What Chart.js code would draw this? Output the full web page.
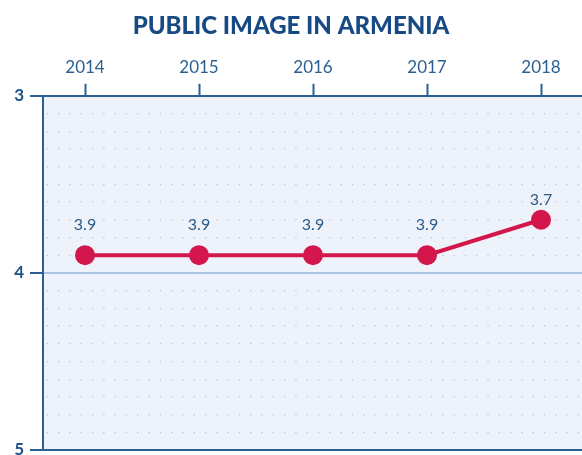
<!DOCTYPE html>
<html>
<head>
<meta charset="utf-8">
<script src="https://cdn.jsdelivr.net/npm/chart.js@4.4.0/dist/chart.umd.min.js"></script>
<style>
  html, body { margin: 0; padding: 0; background: #fff; }
  #wrap { width: 582px; height: 455px; }
</style>
</head>
<body>
<div id="wrap"><canvas id="armChart"></canvas></div>
<script>
// values
const years = [2014, 2015, 2016, 2017, 2018];
const ranks = [3.9, 3.9, 3.9, 3.9, 3.7];
const yLabels = [3, 4, 5];

const dark = '#1f5288';
const tickBlue = '#2b5f92';

// light blue plot background
const plotBg = {
    id: 'plotBg',
    beforeDraw(chart) {
        const {ctx, chartArea: a} = chart;
        ctx.save();
        ctx.fillStyle = '#eef3fb';
        ctx.fillRect(a.left, a.top, a.right - a.left, a.bottom - a.top);
        ctx.restore();
    }
};

// numbers above the points
const valueLabels = {
    id: 'valueLabels',
    afterDatasetsDraw(chart) {
        const ctx = chart.ctx;
        const meta = chart.getDatasetMeta(0);
        ctx.save();
        ctx.font = '16px Lato';
        ctx.fillStyle = '#2d5b88';
        ctx.textAlign = 'center';
        ctx.textBaseline = 'middle';
        meta.data.forEach((pt, i) => {
            let off = i === meta.data.length - 1 ? 20 : 30;
            ctx.fillText(ranks[i].toFixed(1), pt.x, pt.y - off);
        });
        ctx.restore();
    }
};

function isLabel(v) {
    return yLabels.some(l => Math.abs(l - v) < 1e-6);
}

let chart = new Chart(document.getElementById('armChart').getContext('2d'), {
    type: 'line',
    data: {
        datasets: [{
            data: years.map((y, i) => ({x: y, y: ranks[i]})),
            borderColor: '#d3164b',
            backgroundColor: '#d3164b',
            borderWidth: 4,
            pointRadius: 8,
            pointHoverRadius: 8,
            tension: 0
        }]
    },
    options: {
        responsive: true,
        maintainAspectRatio: false,
        animation: false,
        layout: { autoPadding: false, padding: { left: 0, right: 0, top: 0, bottom: 5 } },
        plugins: {
            legend: { display: false },
            tooltip: { enabled: false },
            title: {
                display: true,
                text: 'PUBLIC IMAGE IN ARMENIA',
                color: '#174a85',
                font: { family: 'Lato', size: 24, weight: '900' },
                padding: { top: 12, bottom: 7 }
            }
        },
        scales: {
            x: {
                type: 'linear',
                position: 'top',
                min: 2014 - 42 / 114,
                max: 2018 + 41 / 114,
                afterBuildTicks: s => { s.ticks = years.map(v => ({value: v})); },
                afterFit: s => {
                    s.height = 48;
                    s.paddingLeft = 0;
                    s.paddingRight = 0;
                },
                ticks: {
                    color: tickBlue,
                    font: { family: 'Lato', size: 17 },
                    padding: 6,
                    callback: v => String(v)
                },
                grid: {
                    drawOnChartArea: false,
                    tickLength: 12,
                    tickColor: tickBlue,
                    tickWidth: 2
                },
                border: { color: tickBlue, width: 2 }
            },
            y: {
                type: 'linear',
                reverse: true,
                min: 3,
                max: 5,
                afterFit: s => {
                    s.width = 43;
                    s.paddingTop = 0;
                    s.paddingBottom = 0;
                },
                afterBuildTicks: s => {
                    let t = [];
                    for (let k = 0; k <= 20; k++) t.push({value: 3 + k / 10});
                    s.ticks = t;
                },
                ticks: {
                    color: dark,
                    font: { family: 'Lato', size: 17, weight: 'bold' },
                    padding: 6,
                    autoSkip: false,
                    callback: v => isLabel(v) ? String(Math.round(v)) : ''
                },
                grid: {
                    tickLength: 13,
                    color: c => {
                        let v = c.tick.value;
                        if (Math.abs(v - 4) < 1e-6) return '#a8c5e6';
                        if (Math.abs(v - 5) < 1e-6) return tickBlue;
                        if (Math.abs(v - 3) < 1e-6) return 'rgba(0,0,0,0)';
                        return '#b9c3d2';
                    },
                    lineWidth: c => isLabel(c.tick.value) ? 2 : 1.3,
                    tickColor: c => isLabel(c.tick.value) ? tickBlue : 'rgba(0,0,0,0)',
                    tickWidth: 2
                },
                border: {
                    color: tickBlue,
                    width: 2,
                    dash: c => (c.tick && !isLabel(c.tick.value)) ? [1.3, 10] : [],
                    dashOffset: -14
                }
            }
        }
    },
    plugins: [plotBg, valueLabels]
});
</script>
</body>
</html>
